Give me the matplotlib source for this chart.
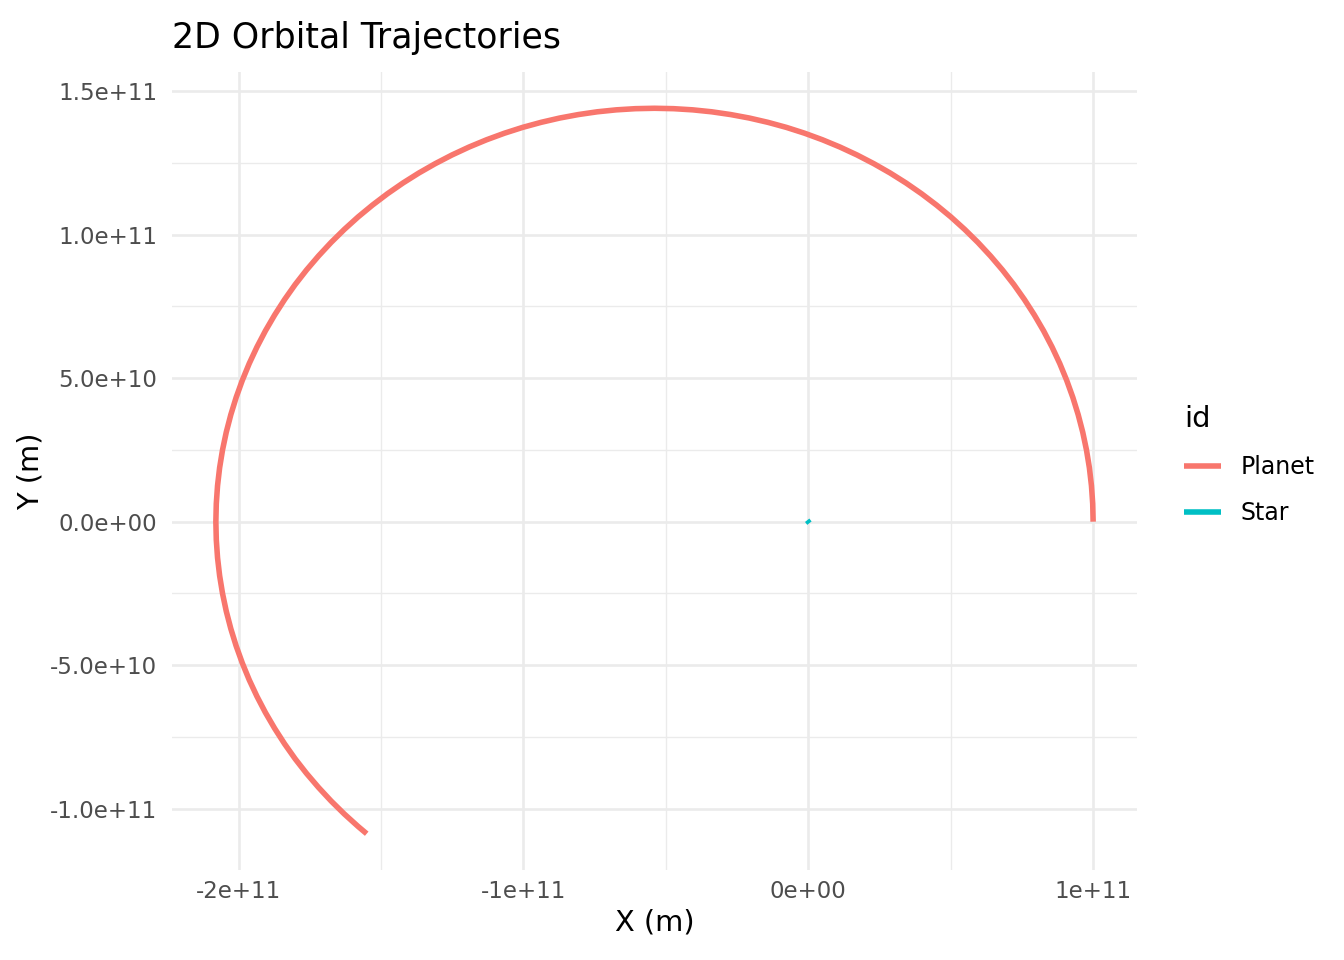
import numpy as np
import matplotlib
matplotlib.use("Agg")
import matplotlib.pyplot as plt
from matplotlib.ticker import FixedLocator, MultipleLocator

# ---------------- data (units of 1e11 m) ----------------
UNIT = 1e11
planet_x = [1.0000, 0.9985, 0.9941, 0.9868, 0.9766, 0.9635, 0.9475, 0.9287, 0.9071,
            0.8828, 0.8557, 0.8260, 0.7936, 0.7588, 0.7216, 0.6818, 0.6396, 0.5954,
            0.5489, 0.5004, 0.4499, 0.3975, 0.3433, 0.2874, 0.2300, 0.1711, 0.1108,
            0.0493, -0.0133, -0.0769, -0.1414, -0.2067, -0.2727, -0.3390, -0.4057,
            -0.4728, -0.5400, -0.6072, -0.6743, -0.7410, -0.8073, -0.8733, -0.9386,
            -1.0031, -1.0667, -1.1293, -1.1908, -1.2511, -1.3100, -1.3674, -1.4233,
            -1.4775, -1.5299, -1.5804, -1.6289, -1.6754, -1.7196, -1.7618, -1.8016,
            -1.8388, -1.8736, -1.9060, -1.9357, -1.9628, -1.9871, -2.0087, -2.0275,
            -2.0435, -2.0566, -2.0668, -2.0741, -2.0785, -2.0800, -2.0785, -2.0741,
            -2.0668, -2.0566, -2.0435, -2.0275, -2.0087, -1.9871, -1.9628, -1.9357,
            -1.9060, -1.8736, -1.8388, -1.8016, -1.7618, -1.7196, -1.6754, -1.6289,
            -1.5804, -1.5504]
planet_y = [0.0000, 0.0628, 0.1256, 0.1880, 0.2500, 0.3117, 0.3727, 0.4330, 0.4925,
            0.5511, 0.6085, 0.6649, 0.7200, 0.7737, 0.8260, 0.8766, 0.9256, 0.9728,
            1.0182, 1.0617, 1.1030, 1.1424, 1.1796, 1.2145, 1.2470, 1.2773, 1.3051,
            1.3304, 1.3532, 1.3734, 1.3909, 1.4059, 1.4181, 1.4277, 1.4345,
            1.4386, 1.4400, 1.4386, 1.4345, 1.4277, 1.4181, 1.4059, 1.3909,
            1.3734, 1.3532, 1.3304, 1.3051, 1.2773, 1.2470, 1.2145, 1.1796,
            1.1424, 1.1030, 1.0617, 1.0182, 0.9728, 0.9256, 0.8766, 0.8260,
            0.7737, 0.7200, 0.6649, 0.6085, 0.5511, 0.4925, 0.4330, 0.3727,
            0.3117, 0.2500, 0.1880, 0.1256, 0.0628, 0.0000, -0.0628, -0.1256,
            -0.1880, -0.2500, -0.3117, -0.3727, -0.4330, -0.4925, -0.5511, -0.6085,
            -0.6649, -0.7200, -0.7737, -0.8260, -0.8766, -0.9256, -0.9728, -1.0182,
            -1.0617, -1.0868]
star_x = [-0.004, 0.000, 0.004]
star_y = [0.005, 0.000, -0.005]

series_names = ["Planet", "Star"]
series_colors = ["#F8766D", "#00BFC4"]

x_ticks = [-2e11, -1e11, 0.0, 1e11]
x_tick_labels = ["-2e+11", "-1e+11", "0e+00", "1e+11"]
y_ticks = [-1e11, -5e10, 0.0, 5e10, 1e11, 1.5e11]
y_tick_labels = ["-1.0e+11", "-5.0e+10", "0.0e+00", "5.0e+10", "1.0e+11", "1.5e+11"]

title = "2D Orbital Trajectories"
x_label = "X (m)"
y_label = "Y (m)"
legend_title = "id"

# ---------------- figure ----------------
plt.rcParams['font.family'] = ['DejaVu Sans']
fig = plt.figure(figsize=(13.44, 9.6), dpi=100)
W, H = 1344, 960
left, right, top, bottom = 172, 1137, 72, 870
ax = fig.add_axes([left / W, 1 - bottom / H, (right - left) / W, (bottom - top) / H])

series = [(np.array(planet_x) * UNIT, np.array(planet_y) * UNIT),
          (np.array(star_x) * UNIT, np.array(star_y) * UNIT)]
handles = []
for (xs, ys), name, col in zip(series, series_names, series_colors):
    h, = ax.plot(xs, ys, color=col, lw=4.0, solid_capstyle='butt',
                 solid_joinstyle='round', label=name, zorder=3)
    handles.append(h)

ax.margins(x=0.05, y=0.05)

ax.xaxis.set_major_locator(FixedLocator(x_ticks))
ax.set_xticklabels(x_tick_labels)
ax.yaxis.set_major_locator(FixedLocator(y_ticks))
ax.set_yticklabels(y_tick_labels)
ax.xaxis.set_minor_locator(MultipleLocator(5e10))
ax.yaxis.set_minor_locator(MultipleLocator(2.5e10))

ax.grid(which='major', color='#EBEBEB', lw=1.9, zorder=0)
ax.grid(which='minor', color='#EBEBEB', lw=1.0, zorder=0)
ax.set_axisbelow(True)
for s in ax.spines.values():
    s.set_visible(False)
ax.tick_params(which='both', length=0)
ax.tick_params(axis='x', labelsize=16.5, labelcolor='#4D4D4D', pad=7)
ax.tick_params(axis='y', labelsize=16.5, labelcolor='#4D4D4D', pad=10.5)

ax.set_xlabel(x_label, fontsize=20.8, labelpad=4)
ax.set_ylabel(y_label, fontsize=20.8, labelpad=4)
ax.set_title(title, loc='left', fontsize=25, pad=17)

leg = ax.legend(handles=handles, title=legend_title, loc='center left',
                bbox_to_anchor=(1163 / W, 1 - 465 / H), bbox_transform=fig.transFigure,
                frameon=False, fontsize=17, title_fontsize=20.8,
                handlelength=1.57, handletextpad=0.83, labelspacing=0.95,
                borderpad=0.4, alignment='left')

fig.savefig("out.png", dpi=100)
